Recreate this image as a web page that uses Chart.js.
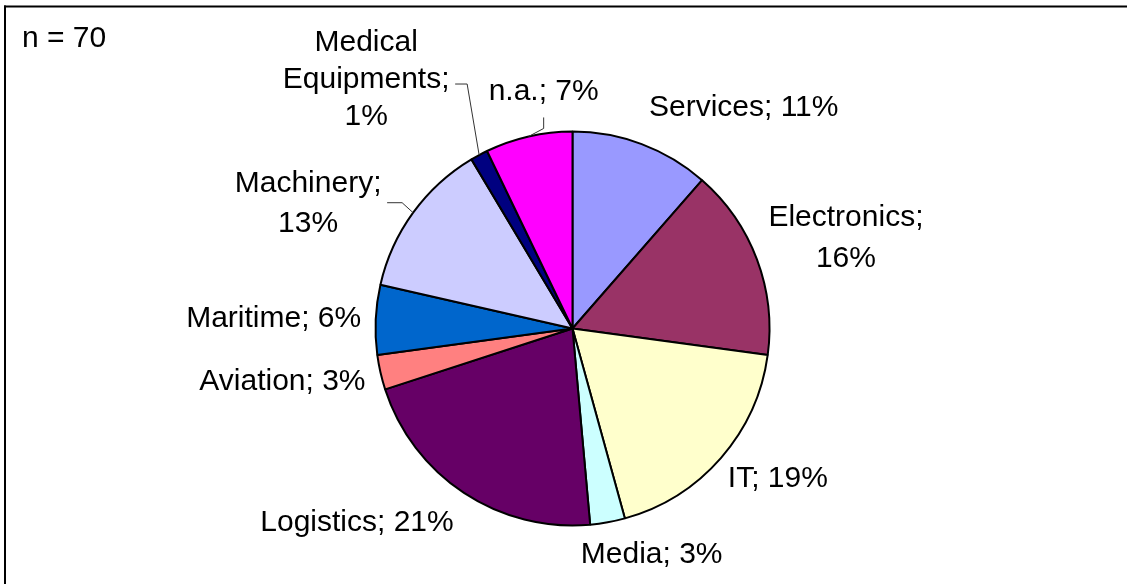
<!DOCTYPE HTML>
<html>
<head>
<title>Industry pie</title>
<style>
  html, body { margin: 0; padding: 0; background: #fff; overflow: hidden; }
  canvas { display: block; }
</style>
</head>
<body>
<canvas id="myChart" width="1127" height="584"></canvas>
<script src="https://cdn.jsdelivr.net/npm/chart.js@4/dist/chart.umd.min.js"></script>
<script>
  // data (counts, n = 70), clockwise from 12 o'clock
  const categories = ['Services', 'Electronics', 'IT', 'Media', 'Logistics', 'Aviation',
                      'Maritime', 'Machinery', 'Medical Equipments', 'n.a.'];
  const counts = [8, 11, 13, 2, 15, 2, 4, 9, 1, 5];
  const colors = ['#9999FF', '#993366', '#FFFFCC', '#CCFFFF', '#660066', '#FF8080',
                  '#0066CC', '#CCCCFF', '#000080', '#FF00FF'];

  // label placement: offset of the text block centre from the slice's mid point on the rim
  const labelLayout = [
    { dx: 102, dy: -36 },
    { dx: 89, dy: -21, wrap: true, lh: 41 },
    { dx: 57, dy: 21 },
    { dx: 44, dy: 32 },
    { dx: -107, dy: 30 },
    { dx: -98, dy: 9 },
    { dx: -102, dy: -1 },
    { dx: -105, dy: -9, wrap: true, lh: 40, leader: [[-26, -10], [-11, -10]] },
    { dx: -113, dy: -75, wrap: true, lh: 37, leader: [[-24, -71], [-12, -71]] },
    { dx: 15, dy: -45, leader: [[15, -19], [15, -8]] }
  ];

  const total = counts.reduce((a, b) => a + b, 0);
  const FONT = '30px "Liberation Sans", Arial, sans-serif';

  const pieLabels = {
    id: 'pieLabels',
    beforeDraw(chart) {
      const ctx = chart.ctx;
      ctx.save();
      ctx.fillStyle = '#fff';
      ctx.fillRect(0, 0, chart.width, chart.height);
      // frame (only top and left edges are inside the picture)
      ctx.fillStyle = '#000';
      ctx.fillRect(4, 5.5, chart.width, 2);
      ctx.fillRect(4, 5.5, 2, chart.height);
      ctx.restore();
    },
    afterDatasetsDraw(chart) {
      const ctx = chart.ctx;
      const arcs = chart.getDatasetMeta(0).data;
      ctx.save();
      ctx.font = FONT;
      ctx.fillStyle = '#000';
      ctx.textAlign = 'center';
      ctx.textBaseline = 'middle';
      arcs.forEach((arc, i) => {
        const lay = labelLayout[i];
        const mid = (arc.startAngle + arc.endAngle) / 2;
        const ax = arc.x + Math.cos(mid) * arc.outerRadius;
        const ay = arc.y + Math.sin(mid) * arc.outerRadius;
        const txt = categories[i] + '; ' + Math.round(counts[i] / total * 100) + '%';
        const lines = lay.wrap ? txt.split(' ') : [txt];
        const lh = lay.lh || 40;
        const cx = ax + lay.dx;
        const cy = ay + lay.dy - (lines.length - 1) * lh / 2;
        lines.forEach((l, k) => ctx.fillText(l, cx, cy + k * lh));
        if (lay.leader) {
          ctx.strokeStyle = '#333';
          ctx.lineWidth = 1;
          ctx.beginPath();
          ctx.moveTo(ax + lay.leader[0][0], ay + lay.leader[0][1]);
          ctx.lineTo(ax + lay.leader[1][0], ay + lay.leader[1][1]);
          ctx.lineTo(ax, ay);
          ctx.stroke();
        }
      });
      ctx.textAlign = 'left';
      ctx.fillText('n = ' + total, 22, 39);
      ctx.restore();
    }
  };

  const myChart = new Chart(document.getElementById('myChart'), {
    type: 'pie',
    data: {
      labels: categories,
      datasets: [{
        data: counts,
        backgroundColor: colors,
        borderColor: '#000',
        borderWidth: 2
      }]
    },
    options: {
      responsive: false,
      animation: false,
      radius: 197,
      layout: { padding: { left: 200, right: 182, top: 100, bottom: 27 } },
      plugins: {
        legend: { display: false },
        tooltip: { enabled: false }
      }
    },
    plugins: [pieLabels]
  });
</script>
</body>
</html>
